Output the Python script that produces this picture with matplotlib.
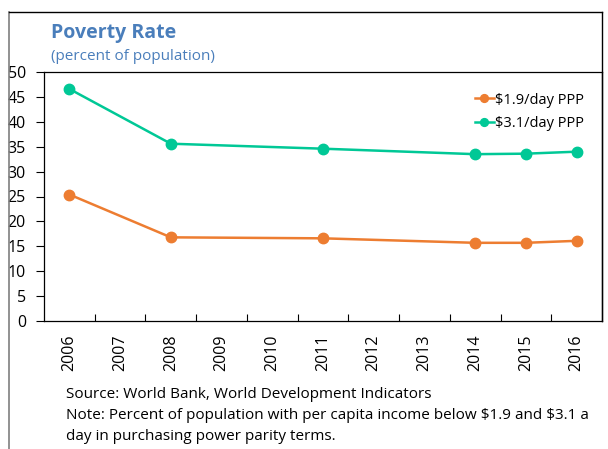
import numpy as np
import matplotlib.pyplot as plt
from matplotlib.lines import Line2D

plt.rcParams['font.family'] = ['Open Sans', 'DejaVu Sans']

years = ['2006', '2007', '2008', '2009', '2010', '2011',
         '2012', '2013', '2014', '2015', '2016']
obs_years = ['2006', '2008', '2011', '2014', '2015', '2016']
rate_19 = [25.4, 16.8, 16.6, 15.7, 15.7, 16.1]
rate_31 = [46.6, 35.6, 34.6, 33.5, 33.6, 34.0]

orange = '#ED7D31'
teal = '#00C896'

fig = plt.figure(figsize=(6.08, 4.49), dpi=100)

# outer frame (left, top, right)
fig.add_artist(Line2D([9/608, 9/608], [0, 1 - 12/449], color='#7f7f7f', lw=1.2))
fig.add_artist(Line2D([9/608, 602/608], [1 - 12/449, 1 - 12/449], color='black', lw=1.0))
fig.add_artist(Line2D([602/608, 602/608], [1 - 12/449, 1 - 321/449], color='black', lw=1.0))

ax = fig.add_axes([44/608, 1 - 321/449, (602 - 44)/608, (321 - 72)/449])

xpos = [years.index(y) for y in obs_years]
ax.plot(xpos, rate_19, color=orange, lw=1.8, marker='o', ms=7.5, label='$1.9/day PPP')
ax.plot(xpos, rate_31, color=teal, lw=1.8, marker='o', ms=7.5, label='$3.1/day PPP')

ax.set_xlim(-0.5, len(years) - 0.5)
ax.set_ylim(0, 50)
ax.set_yticks(np.arange(0, 51, 5))
ax.set_xticks(range(len(years)))
ax.set_xticklabels(years, rotation=90, fontsize=11.5)
ax.set_xticks(np.arange(0.5, len(years) - 1, 1), minor=True)
ax.tick_params(axis='x', which='major', length=0, pad=10)
ax.tick_params(axis='x', which='minor', direction='in', length=5, width=0.8)
ax.tick_params(axis='y', direction='out', length=6, width=0.8, labelsize=11.5, pad=7)
for s in ax.spines.values():
    s.set_linewidth(0.9)

leg = ax.legend(loc='upper right', bbox_to_anchor=(0.992, 0.97), frameon=False,
                fontsize=10.5, handlelength=1.3, handletextpad=0.1, labelspacing=0.6,
                markerscale=0.75)

fig.text(51/608, 1 - 33/449, 'Poverty Rate', color='#4A7EBB', fontsize=14,
         fontweight='bold', va='center')
fig.text(51/608, 1 - 57/449, '(percent of population)', color='#4A7EBB',
         fontsize=11, va='center')

notes = ['Source: World Bank, World Development Indicators',
         r'Note: Percent of population with per capita income below \$1.9 and \$3.1 a',
         'day in purchasing power parity terms.']
for i, line in enumerate(notes):
    fig.text(66/608, 1 - (394 + 21.5*i)/449, line, fontsize=11, va='center')

fig.savefig('out.png', dpi=100)
